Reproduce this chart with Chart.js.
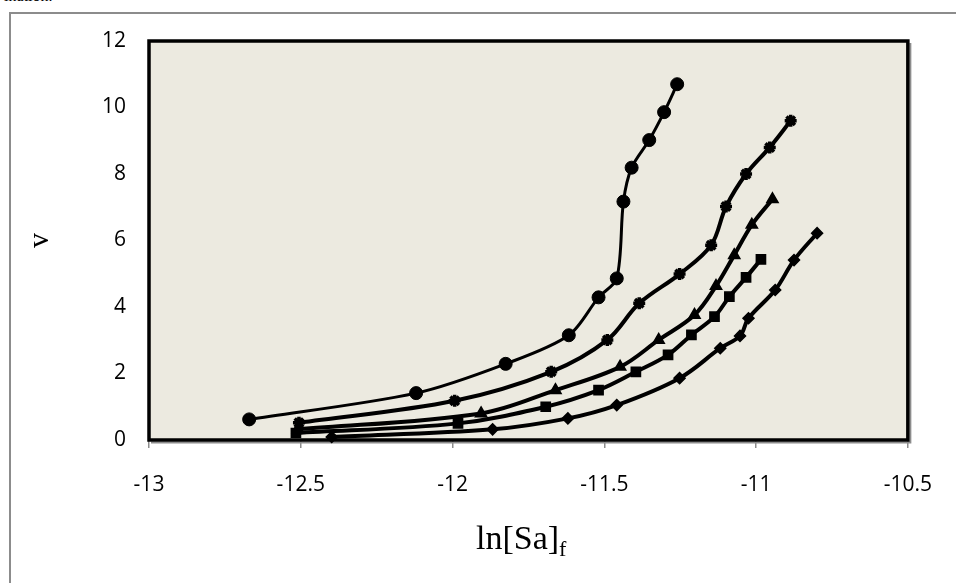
<!DOCTYPE html>
<html><head><meta charset="utf-8">
<script src="https://cdn.jsdelivr.net/npm/chart.js@4/dist/chart.umd.min.js"></script>
<style>
html,body{margin:0;padding:0;background:#fff;overflow:hidden;}
#wrap{position:relative;width:956px;height:583px;overflow:hidden;}
#frame{position:absolute;left:9px;top:12px;width:980px;height:620px;border-left:2px solid #8c8c8c;border-top:2px solid #8c8c8c;}
#cap{position:absolute;left:4px;top:-12px;font:16px 'Liberation Serif';color:#000;white-space:nowrap;line-height:16px;}
#xt{position:absolute;left:476px;top:521px;font:34px 'Liberation Serif';color:#000;white-space:nowrap;line-height:1;}
#xt sub{font-size:22px;vertical-align:-7px;line-height:1;}
canvas{position:absolute;left:0;top:0;}
</style></head>
<body><div id="wrap">
<div id="cap">ination.</div>
<div id="frame"></div>
<canvas id="c" width="956" height="583"></canvas>
<div id="xt">ln[Sa]<sub>f</sub></div>
</div>
<script>
const xTicks = [-13, -12.5, -12, -11.5, -11, -10.5];
const yTicks = [0, 2, 4, 6, 8, 10, 12];

const circleX = [-12.67, -12.12, -11.825, -11.617, -11.519, -11.459, -11.437, -11.41, -11.352, -11.303, -11.26];
const circleY = [0.62, 1.41, 2.29, 3.15, 4.29, 4.86, 7.17, 8.19, 9.02, 9.86, 10.70];
const crossX = [-12.506, -11.993, -11.675, -11.49, -11.385, -11.252, -11.148, -11.099, -11.033, -10.955, -10.886];
const crossY = [0.52, 1.18, 2.05, 3.01, 4.11, 4.99, 5.86, 7.02, 8.00, 8.80, 9.60];
const triX = [-12.51, -11.906, -11.661, -11.448, -11.321, -11.203, -11.132, -11.072, -11.014, -10.946];
const triY = [0.32, 0.80, 1.50, 2.20, 3.01, 3.76, 4.63, 5.56, 6.47, 7.24];
const squareX = [-12.516, -11.982, -11.693, -11.519, -11.396, -11.29, -11.213, -11.137, -11.088, -11.033, -10.984];
const squareY = [0.21, 0.50, 1.00, 1.50, 2.05, 2.56, 3.16, 3.71, 4.31, 4.89, 5.43];
const diamondX = [-12.398, -11.868, -11.62, -11.459, -11.252, -11.118, -11.053, -11.025, -10.937, -10.875, -10.799];
const diamondY = [0.09, 0.32, 0.65, 1.05, 1.86, 2.76, 3.13, 3.66, 4.51, 5.41, 6.22];

const pts = (xs, ys) => xs.map((x, i) => ({x: x, y: ys[i]}));

function ds(xs, ys, style, radius, lw, pbw, tension) {
  return {
    data: pts(xs, ys), showLine: true, borderColor: '#000', backgroundColor: '#000',
    borderWidth: lw, pointStyle: style, pointRadius: radius, pointBorderWidth: pbw,
    pointBackgroundColor: '#000', pointBorderColor: '#000', tension: tension, clip: false, fill: false
  };
}

const plotFrame = {
  id: 'plotFrame',
  beforeDraw(chart) {
    const {ctx, chartArea: a} = chart;
    ctx.save();
    ctx.fillStyle = '#ECEAE0';
    ctx.fillRect(a.left, a.top, a.width, a.height);
    ctx.restore();
  },
  beforeDatasetsDraw(chart) {
    const {ctx, chartArea: a} = chart;
    ctx.save();
    ctx.strokeStyle = '#8c8c8c';
    ctx.lineWidth = 2;
    ctx.beginPath();
    ctx.moveTo(a.right + 2.5, a.top + 2); ctx.lineTo(a.right + 2.5, a.bottom + 2.5);
    ctx.lineTo(a.left + 2, a.bottom + 2.5);
    ctx.stroke();
    ctx.strokeStyle = '#000';
    ctx.lineWidth = 3.5;
    ctx.strokeRect(a.left, a.top, a.width, a.height);
    ctx.restore();
  }
};

new Chart(document.getElementById('c'), {
  type: 'scatter',
  data: {
    datasets: [
      ds(circleX, circleY, 'circle', 6.5, 3, 1, 0.3),
      ds(crossX, crossY, 'star', 6, 4, 3.5, 0.35),
      ds(triX, triY, 'triangle', 6.5, 4, 1.5, 0.35),
      ds(squareX, squareY, 'rect', 6.5, 4, 1.5, 0.35),
      ds(diamondX, diamondY, 'rectRot', 5.5, 4, 1.5, 0.35)
    ]
  },
  options: {
    responsive: false, animation: false,
    layout: {padding: {top: 41, right: 43, left: 0, bottom: 0}},
    plugins: {legend: {display: false}, tooltip: {enabled: false}},
    scales: {
      x: {
        type: 'linear', min: -13, max: -10.5,
        afterFit: s => { s.height = 143; },
        afterBuildTicks: s => { s.ticks = xTicks.map(v => ({value: v})); },
        border: {display: false},
        grid: {display: true, drawOnChartArea: false, drawTicks: true, tickLength: 8, color: '#8c8c8c', lineWidth: 1.5},
        ticks: {font: {family: "'Open Sans'", size: 21}, color: '#000', padding: 24, callback: v => String(v)}
      },
      y: {
        type: 'linear', min: 0, max: 12,
        afterFit: s => { s.width = 149; },
        afterBuildTicks: s => { s.ticks = yTicks.map(v => ({value: v})); },
        border: {display: false},
        grid: {display: false, drawTicks: false},
        ticks: {font: {family: "'Open Sans'", size: 21}, color: '#000', padding: 23, callback: v => String(v)},
        title: {display: true, text: 'v', font: {family: "'Liberation Serif'", size: 30}, color: '#000', padding: {top: 22, bottom: 0}}
      }
    }
  },
  plugins: [plotFrame]
});
</script>
</body></html>
